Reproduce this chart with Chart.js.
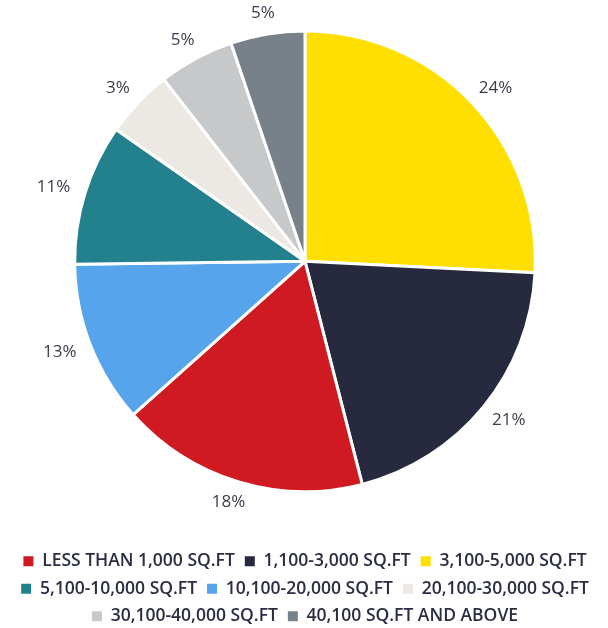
<!DOCTYPE html>
<html>
<head>
<meta charset="utf-8">
<script src="https://cdn.jsdelivr.net/npm/chart.js@4"></script>
<style>
  html, body { margin: 0; padding: 0; background: #fff; }
  #wrap { width: 608px; height: 628px; }
</style>
</head>
<body>
<div id="wrap"><canvas id="pieCanvas"></canvas></div>
<script>
// slices in drawing order (clockwise from 12 o'clock)
const categories = [
  "3,100-5,000 SQ.FT",
  "1,100-3,000 SQ.FT",
  "LESS THAN 1,000 SQ.FT",
  "10,100-20,000 SQ.FT",
  "5,100-10,000 SQ.FT",
  "20,100-30,000 SQ.FT",
  "30,100-40,000 SQ.FT",
  "40,100 SQ.FT AND ABOVE",
];
const shares = [25.8, 20.2, 17.4, 11.4, 9.9, 4.8, 5.3, 5.2];
const pctLabels = ["24%", "21%", "18%", "13%", "11%", "3%", "5%", "5%"];
const colors = [
  "#FFDF00", "#272A3E", "#CE1A20", "#55A4EC",
  "#23818D", "#ECE9E4", "#C7C8CA", "#788089",
];
// order the legend shows them in
const legendOrder = [
  "LESS THAN 1,000 SQ.FT",
  "1,100-3,000 SQ.FT",
  "3,100-5,000 SQ.FT",
  "5,100-10,000 SQ.FT",
  "10,100-20,000 SQ.FT",
  "20,100-30,000 SQ.FT",
  "30,100-40,000 SQ.FT",
  "40,100 SQ.FT AND ABOVE",
];

// 外側百分比標籤
const outsideLabels = {
  id: "outsideLabels",
  afterDatasetsDraw(chart) {
    const { ctx } = chart;
    const meta = chart.getDatasetMeta(0);
    ctx.save();
    ctx.font = "17px 'Open Sans'";
    ctx.fillStyle = "#3A3C4B";
    ctx.textAlign = "center";
    ctx.textBaseline = "middle";
    meta.data.forEach((arc, i) => {
      const { x, y, startAngle, endAngle, outerRadius } = arc.getProps(
        ["x", "y", "startAngle", "endAngle", "outerRadius"], true);
      const a = (startAngle + endAngle) / 2;
      const r = outerRadius + 14;
      const text = pctLabels[i];
      const hw = ctx.measureText(text).width / 2 + 2;
      const hh = 7;
      const tx = x + r * Math.cos(a) + hw * Math.cos(a);
      const ty = y + r * Math.sin(a) + hh * Math.sin(a);
      ctx.fillText(text, tx, ty);
    });
    ctx.restore();
  },
};

new Chart(document.getElementById("pieCanvas"), {
  type: "pie",
  data: {
    labels: categories,
    datasets: [
      {
        data: shares,
        backgroundColor: colors,
        borderColor: "#ffffff",
        borderWidth: 3,
      },
    ],
  },
  options: {
    responsive: true,
    maintainAspectRatio: false,
    animation: false,
    layout: { padding: { top: 29.5, left: 2, right: 0, bottom: -7 } },
    plugins: {
      tooltip: { enabled: false },
      legend: {
        position: "bottom",
        // 空白標題只用來拉開圓餅與圖例的距離
        title: { display: true, text: "", padding: { top: 17, bottom: 18 } },
        labels: {
          boxWidth: 10,
          boxHeight: 10,
          padding: 10,
          color: "#2B2D42",
          font: { family: "'Open Sans'", size: 17.5, weight: "600" },
          // 圖例方塊不要白色外框
          generateLabels: (chart) =>
            Chart.overrides.pie.plugins.legend.labels
              .generateLabels(chart)
              .map((item) => ({ ...item, lineWidth: 0 })),
          sort: (a, b) =>
            legendOrder.indexOf(a.text) - legendOrder.indexOf(b.text),
        },
      },
    },
  },
  plugins: [outsideLabels],
});
</script>
</body>
</html>
